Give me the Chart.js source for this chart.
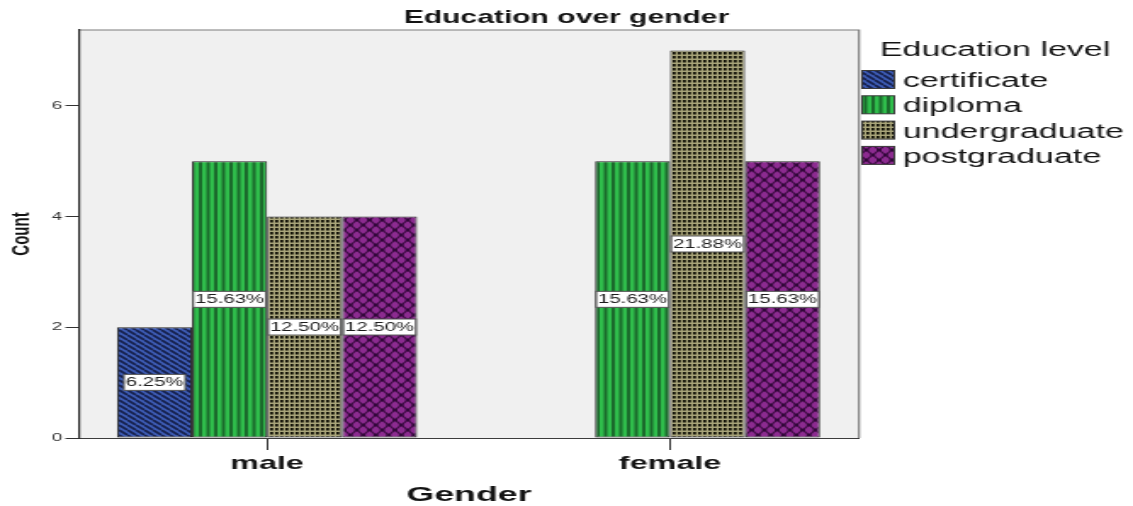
<!DOCTYPE html>
<html>
<head>
<meta charset="utf-8">
<title>Education over gender</title>
<script src="https://cdn.jsdelivr.net/npm/chart.js@4.4.1/dist/chart.umd.min.js"></script>
<style>
  html, body { margin: 0; padding: 0; background: #ffffff; overflow: hidden; }
  #wrap { width: 1133px; height: 506px; overflow: hidden; }
  /* the chart is laid out on a narrower canvas and widened horizontally */
  #c { display: block; transform-origin: 0 0; transform: scaleX(1.69865); }
</style>
</head>
<body>
<div id="wrap"><canvas id="c" width="667" height="506"></canvas></div>
<script>
// Gender groups on the x axis
const categories = ['male', 'female'];
// Education levels (one bar series each)
const educationLevels = ['certificate', 'diploma', 'undergraduate', 'postgraduate'];
// Counts per gender, in the order of `categories`
const certificateCounts = [2, 0];
const diplomaCounts = [5, 5];
const undergraduateCounts = [4, 7];
const postgraduateCounts = [4, 5];
// Count axis ticks
const countTicks = [0, 2, 4, 6];

const chartTitle = 'Education over gender';
const legendTitle = 'Education level';

const FONT = '"Liberation Sans", Arial, Helvetica, sans-serif';
const canvas = document.getElementById('c');
const mainCtx = canvas.getContext('2d');

// Fill patterns for the bars, drawn at 2x and scaled down
function makePattern(w, h, draw) {
  const t = document.createElement('canvas');
  t.width = w; t.height = h;
  const g = t.getContext('2d');
  draw(g, w, h);
  const p = mainCtx.createPattern(t, 'repeat');
  p.setTransform(new DOMMatrix().scale(0.5));
  return p;
}

const certificatePattern = makePattern(10, 10, (g, w, h) => {
  g.fillStyle = '#3d5bb3';
  g.fillRect(0, 0, w, h);
  g.strokeStyle = '#16204b';
  g.lineWidth = 3.4;
  g.beginPath();
  for (const k of [-10, 0, 10]) { g.moveTo(k, 0); g.lineTo(k + 10, 10); }
  g.stroke();
});

const diplomaPattern = makePattern(9, 2, (g, w, h) => {
  g.fillStyle = '#2fbd4b';
  g.fillRect(0, 0, w, h);
  g.fillStyle = '#1b6a2c';
  g.fillRect(0, 0, 4, h);
});

const undergraduatePattern = makePattern(6, 8, (g, w, h) => {
  g.fillStyle = '#a8a479';
  g.fillRect(0, 0, w, h);
  g.fillStyle = '#101006';
  g.fillRect(0, 0, 3.5, 5);
});

const postgraduatePattern = makePattern(15, 20, (g, w, h) => {
  g.fillStyle = '#8c2b90';
  g.fillRect(0, 0, w, h);
  g.strokeStyle = '#3e0c44';
  g.lineWidth = 2.4;
  g.beginPath();
  g.moveTo(0, 0); g.lineTo(w, h);
  g.moveTo(w, 0); g.lineTo(0, h);
  g.stroke();
  g.fillStyle = '#32083a';
  for (const [x, y] of [[w / 2, h / 2], [0, 0], [w, 0], [0, h], [w, h]]) {
    g.beginPath(); g.arc(x, y, 3, 0, Math.PI * 2); g.fill();
  }
});

const seriesCounts = [certificateCounts, diplomaCounts, undergraduateCounts, postgraduateCounts];
const seriesFills = [certificatePattern, diplomaPattern, undergraduatePattern, postgraduatePattern];

const datasets = educationLevels.map((level, k) => ({
  label: level,
  data: seriesCounts[k].map((v, i) => ({ x: i, y: v })),
  backgroundColor: seriesFills[k],
  borderColor: '#262626',
  borderWidth: c => (c.raw && c.raw.y ? 1 : 0),
  borderSkipped: false
}));

const totalCount = seriesCounts.flat().reduce((a, b) => a + b, 0);

// Grey plot background with a thin top/right frame, and the centred title
const plotFrame = {
  id: 'plotFrame',
  beforeDraw(chart) {
    const { ctx, chartArea: a } = chart;
    ctx.save();
    ctx.fillStyle = '#f0f0f0';
    ctx.fillRect(a.left, a.top, a.right - a.left, a.bottom - a.top);
    ctx.strokeStyle = '#7d7d7d';
    ctx.lineWidth = 1.2;
    ctx.beginPath();
    ctx.moveTo(a.left, a.top);
    ctx.lineTo(a.right, a.top);
    ctx.lineTo(a.right, a.bottom);
    ctx.stroke();

    ctx.fillStyle = '#141414';
    ctx.font = 'bold 17.7px ' + FONT;
    ctx.textAlign = 'center';
    ctx.textBaseline = 'middle';
    ctx.fillText(chartTitle, chart.width / 2, 18);
    ctx.restore();
  }
};

// Percentage of the grand total, boxed at the middle of each bar
const percentLabels = {
  id: 'percentLabels',
  afterDatasetsDraw(chart) {
    const { ctx } = chart;
    ctx.save();
    ctx.font = '12px ' + FONT;
    ctx.textAlign = 'center';
    ctx.textBaseline = 'middle';
    chart.data.datasets.forEach((ds, di) => {
      const meta = chart.getDatasetMeta(di);
      meta.data.forEach((bar, i) => {
        const v = ds.data[i].y;
        if (!v) return;
        const text = (v / totalCount * 100).toFixed(2) + '%';
        const cy = (bar.y + bar.base) / 2;
        const w = ctx.measureText(text).width + 2;
        const h = 16;
        ctx.fillStyle = '#ffffff';
        ctx.fillRect(bar.x - w / 2, cy - h / 2, w, h);
        ctx.strokeStyle = '#555555';
        ctx.lineWidth = 1;
        ctx.strokeRect(bar.x - w / 2, cy - h / 2, w, h);
        ctx.fillStyle = '#1e1e1e';
        ctx.fillText(text, bar.x, cy + 0.5);
      });
    });
    ctx.restore();
  }
};

// Legend with titled list of pattern swatches to the right of the plot
const sideLegend = {
  id: 'sideLegend',
  afterDraw(chart) {
    const { ctx, chartArea: a } = chart;
    ctx.save();
    ctx.textBaseline = 'middle';
    ctx.textAlign = 'left';
    ctx.fillStyle = '#141414';
    ctx.font = '20px ' + FONT;
    ctx.fillText(legendTitle, a.right + 12.3, 50);
    chart.data.datasets.forEach((ds, i) => {
      const y = 79.5 + i * 25.3;
      ctx.fillStyle = ds.backgroundColor;
      ctx.fillRect(a.right + 1.8, y - 9, 19, 18);
      ctx.strokeStyle = '#3a3a3a';
      ctx.lineWidth = 1;
      ctx.strokeRect(a.right + 1.8, y - 9, 19, 18);
      ctx.fillStyle = '#141414';
      ctx.fillText(ds.label, a.right + 25.8, y + 2);
    });
    ctx.restore();
  }
};

new Chart(canvas, {
  type: 'bar',
  data: { datasets },
  plugins: [plotFrame, percentLabels, sideLegend],
  options: {
    responsive: false,
    animation: false,
    layout: { padding: { left: 0, right: 161.3, top: 30, bottom: 0 } },
    datasets: { bar: { categoryPercentage: 0.7445, barPercentage: 1, grouped: true } },
    plugins: {
      legend: { display: false },
      tooltip: { enabled: false },
      title: { display: false }
    },
    scales: {
      x: {
        type: 'linear',
        offset: false,
        min: -0.4667,
        max: 1.469,
        afterBuildTicks: s => { s.ticks = categories.map((c, i) => ({ value: i })); },
        afterFit: s => { s.height = 68; },
        ticks: {
          callback: v => categories[v] ?? '',
          color: '#141414',
          font: { family: FONT, size: 19, weight: 'bold' },
          padding: 2,
          autoSkip: false,
          maxRotation: 0
        },
        grid: { offset: false, drawOnChartArea: false, drawTicks: true, tickLength: 12, color: '#333333', lineWidth: 1 },
        border: { display: true, color: '#3c3c3c', width: 1 },
        title: {
          display: true,
          text: 'Gender',
          color: '#141414',
          font: { family: FONT, size: 21, weight: 'bold', lineHeight: 1 },
          padding: { top: 0, bottom: 0 }
        }
      },
      y: {
        min: 0,
        max: 7.37,
        afterBuildTicks: s => { s.ticks = countTicks.map(v => ({ value: v })); },
        afterFit: s => { s.width = 46.5; },
        ticks: { color: '#333333', font: { family: FONT, size: 11 }, padding: 2 },
        grid: { drawOnChartArea: false, drawTicks: true, tickLength: 8, color: '#333333', lineWidth: 1 },
        border: { display: true, color: '#2a2a2a', width: 1.2 },
        title: {
          display: true,
          text: 'Count',
          color: '#141414',
          font: { family: FONT, size: 15, weight: 'bold', lineHeight: 1.2 },
          padding: { top: 4, bottom: 0 }
        }
      }
    }
  }
});
</script>
</body>
</html>
